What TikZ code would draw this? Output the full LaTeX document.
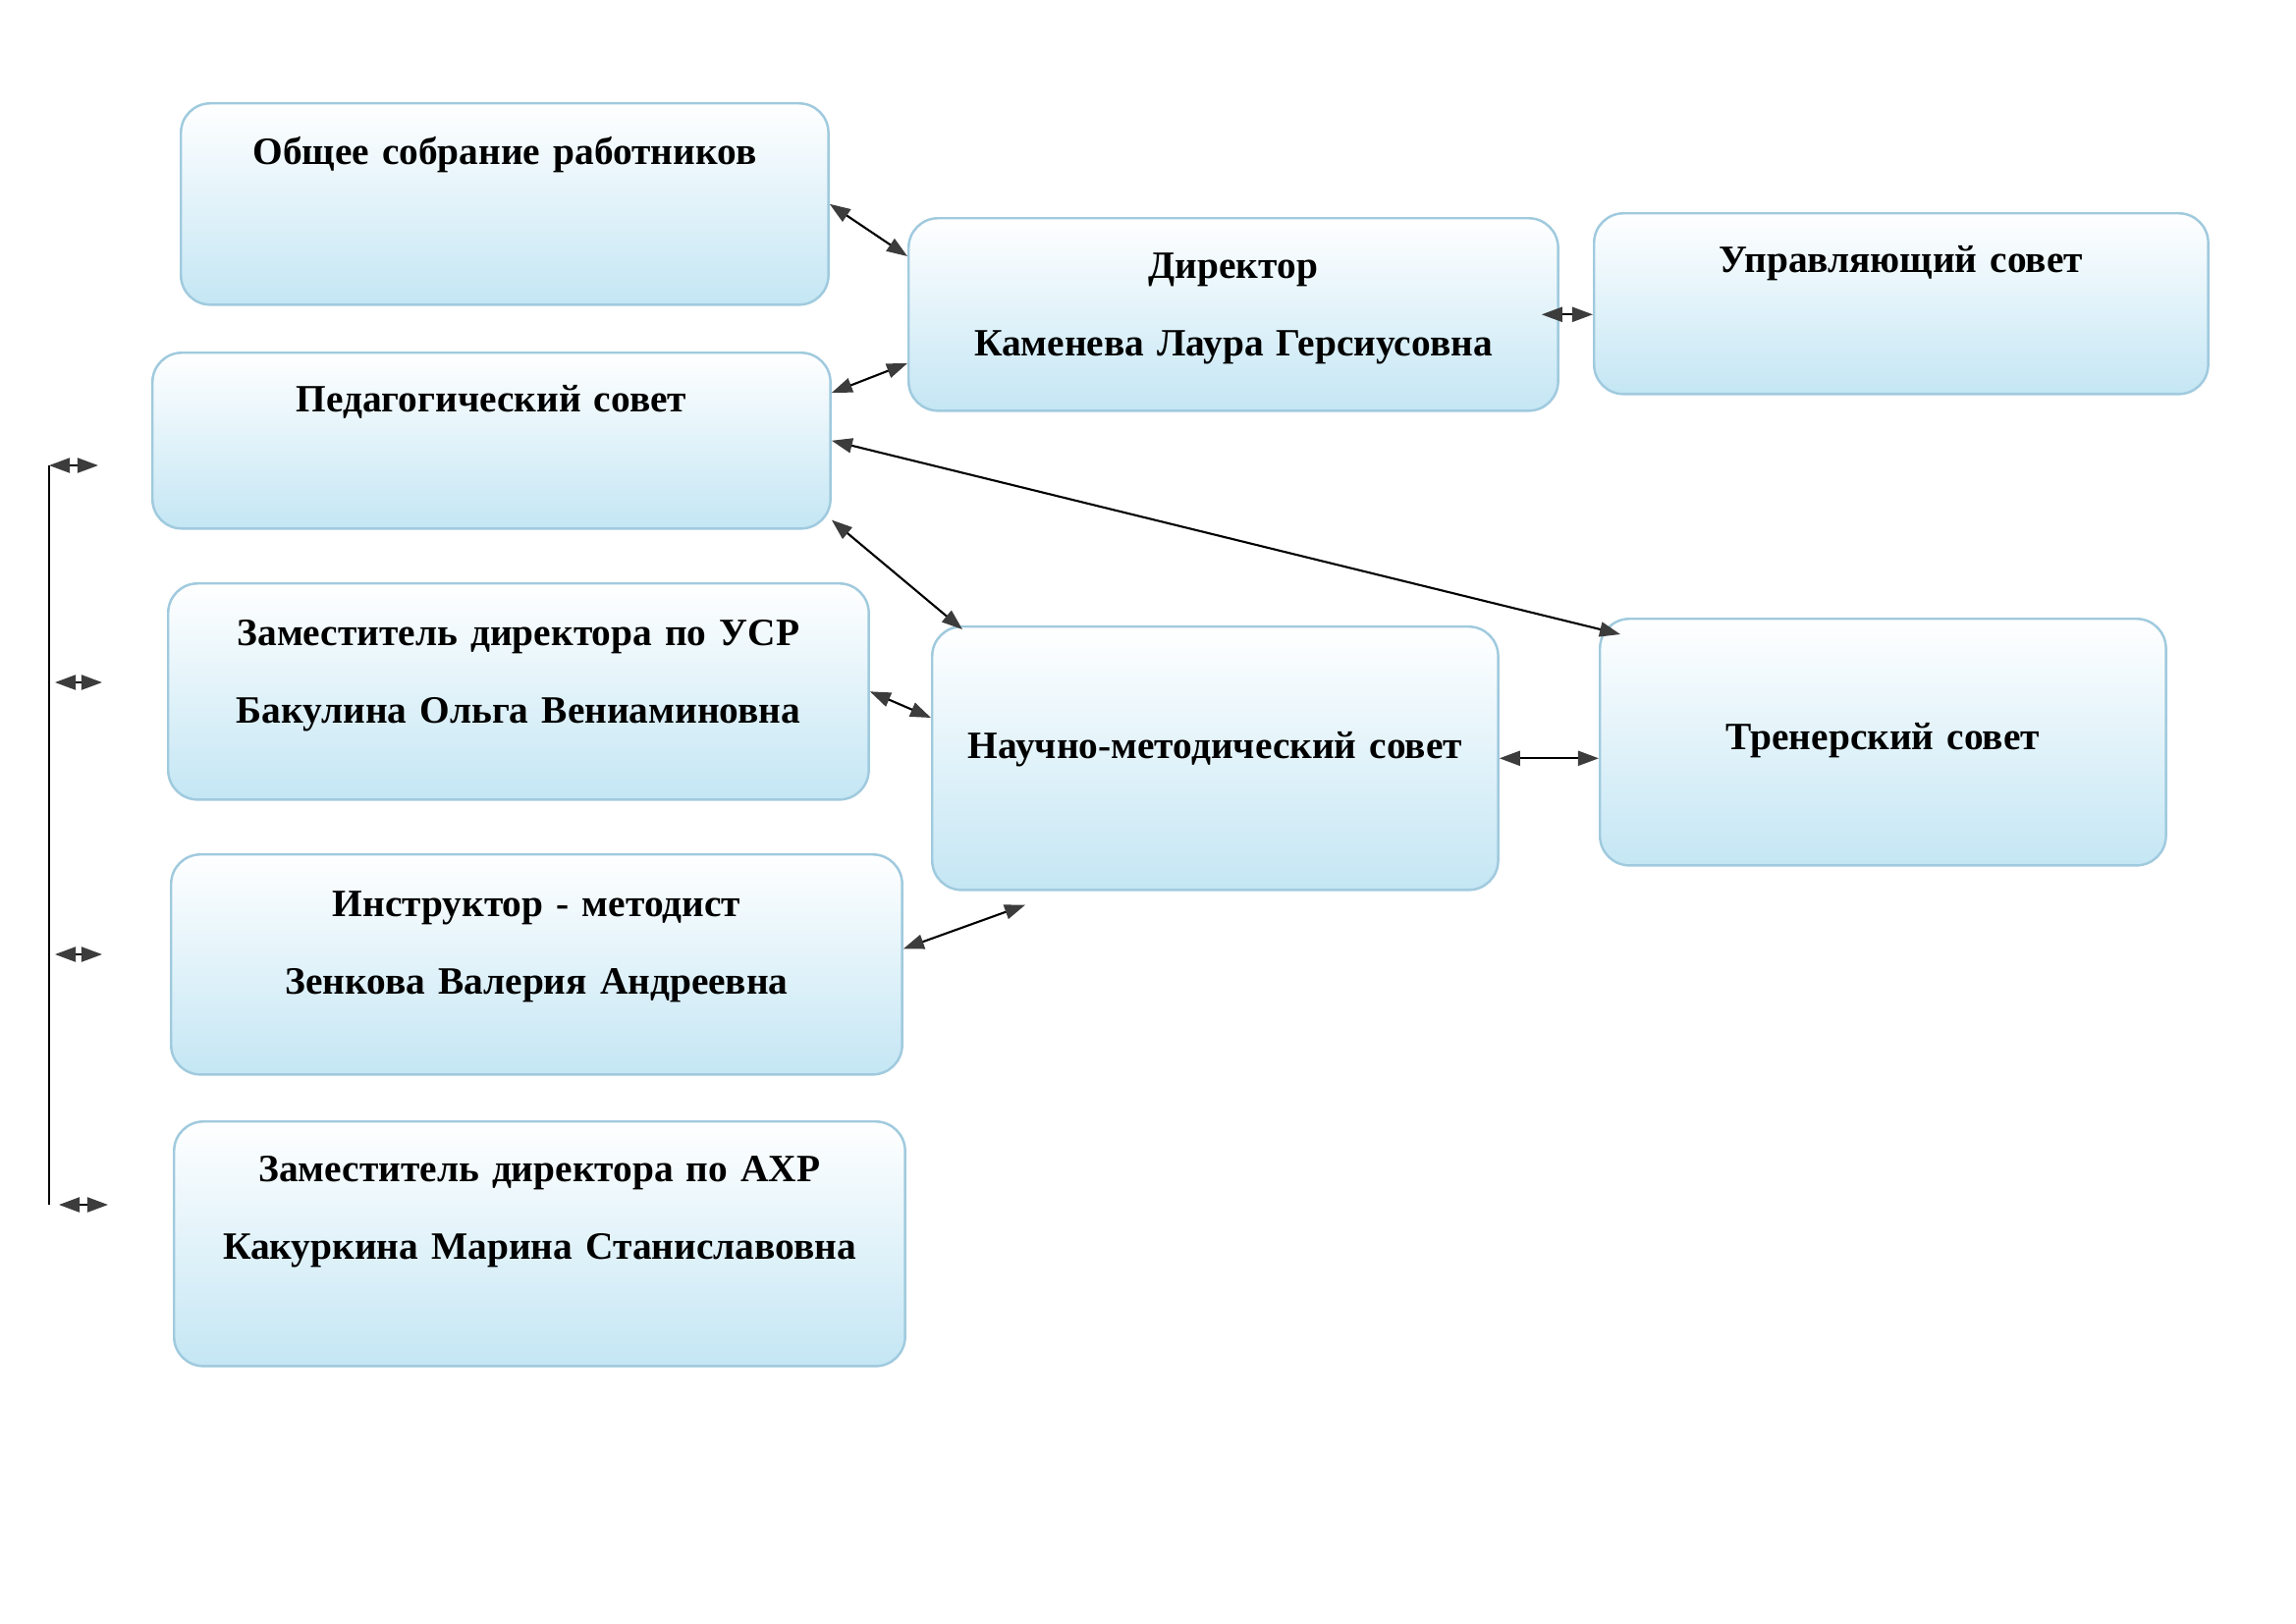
\documentclass[tikz,border=0pt]{standalone}
\usepackage{fontspec}
\setmainfont{Liberation Serif}
\usetikzlibrary{arrows.meta,calc}

\definecolor{boxblue}{RGB}{196,230,244}
\definecolor{boxline}{RGB}{160,202,222}
\definecolor{tipgray}{RGB}{60,60,60}

\tikzstyle{block} = [rectangle, draw=boxline, line width=0.7pt, rounded corners=0.3cm, anchor=north west, inner sep=0pt, align=center, top color=white, middle color=white!55!boxblue, bottom color=boxblue, font=\fontsize{11.2pt}{22.4pt}\selectfont\bfseries]
\tikzstyle{arrow} = [line width=0.6pt, {Triangle[length=0.21cm,width=0.15cm,color=tipgray]}-{Triangle[length=0.21cm,width=0.15cm,color=tipgray]}]

\begin{document}
\begin{tikzpicture}[x=0.01cm, y=-0.01cm]
\useasboundingbox (0,0) rectangle (2338,1654);

\node (obshchee) [block, text width=6.59cm, text height=0.62cm, text depth=1.43cm] at (183,104) {Общее собрание работников};
\node (direktor) [block, text width=6.61cm, text height=0.61cm, text depth=1.35cm] at (924,221) {Директор\\Каменева Лаура Герсиусовна};
\node (upravSovet) [block, text width=6.25cm, text height=0.60cm, text depth=1.24cm] at (1622,216) {Управляющий совет};
\node (pedSovet) [block, text width=6.90cm, text height=0.60cm, text depth=1.19cm] at (154,358) {Педагогический совет};
\node (zamUSR) [block, text width=7.13cm, text height=0.63cm, text depth=1.57cm] at (170,593) {Заместитель директора по УСР\\Бакулина Ольга Вениаминовна};
\node (nauchSovet) [block, text width=5.76cm, text height=1.34cm, text depth=1.34cm] at (948,637) {Научно-методический совет};
\node (trenSovet) [block, text width=5.76cm, text height=1.33cm, text depth=1.18cm] at (1628,629) {Тренерский совет};
\node (instruktor) [block, text width=7.44cm, text height=0.63cm, text depth=1.61cm] at (173,869) {Инструктор - методист\\Зенкова Валерия Андреевна};
\node (zamAHR) [block, text width=7.44cm, text height=0.61cm, text depth=1.88cm] at (176,1141) {Заместитель директора по АХР\\Какуркина Марина Станиславовна};

\draw [arrow] (obshchee.east) -- ($(direktor.north west)+(0,40)$);
\draw [arrow] ($(pedSovet.north east)+(0,42)$) -- ($(direktor.north west)+(0,149)$);
\draw [arrow] ($(direktor.east)+(-18,0)$) -- (direktor.east -| upravSovet.west);
\draw [arrow] (pedSovet.east) -- ($(trenSovet.north west)+(22,17)$);
\draw [arrow] ($(pedSovet.south east)+(0,-10)$) -- ($(nauchSovet.north west)+(32,4)$);
\draw [arrow] (zamUSR.east) -- ($(nauchSovet.north west)+(0,94)$);
\draw [arrow] (nauchSovet.east) -- (nauchSovet.east -| trenSovet.west);
\draw [arrow] ($(instruktor.east)+(0,-16)$) -- ($(nauchSovet.south west)+(96,14)$);

% left bracket
\coordinate (bTop) at (50,474);
\coordinate (bBot) at (50,1227);
\draw [line width=0.8pt] (bTop) -- (bBot);
\draw [arrow] (bTop) -- ++(50,0);
\draw [arrow] (56,695) -- ++(48,0);
\draw [arrow] (56,972) -- ++(48,0);
\draw [arrow] (60,1227) -- ++(50,0);
\end{tikzpicture}
\end{document}
